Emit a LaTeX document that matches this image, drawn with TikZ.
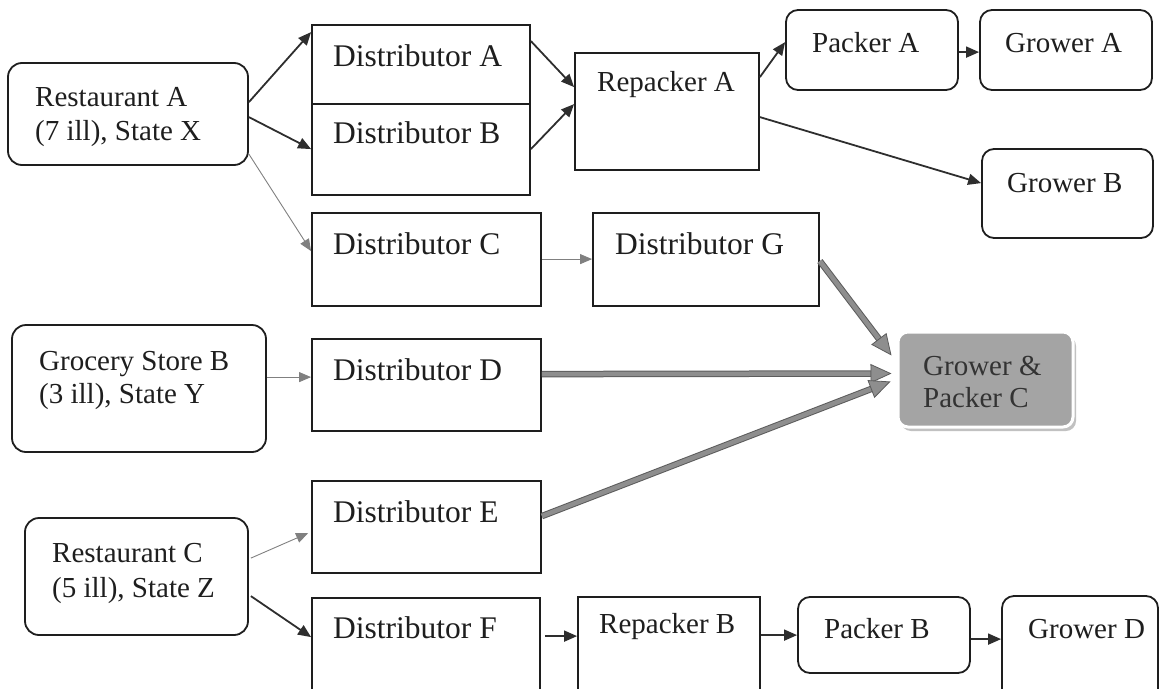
\documentclass[tikz,border=0pt]{standalone}
\usepackage{fontspec}
\setmainfont{Liberation Serif}
\usetikzlibrary{arrows.meta,calc,shadows}
\definecolor{ink}{HTML}{1E1E1E}
\definecolor{arrdark}{HTML}{2E2E2E}
\definecolor{arrthin}{HTML}{808080}
\definecolor{thickfill}{HTML}{8E8E8E}
\definecolor{thickedge}{HTML}{5C5C5C}
\definecolor{gpcfill}{HTML}{A4A4A4}
\begin{document}
\begin{tikzpicture}[x=1pt,y=-1pt,
  box/.style={draw=ink, line width=1.8pt, inner sep=0pt, fill=white},
  rbox/.style={box, rounded corners=14pt},
  lbl/.style={anchor=base west, inner sep=0pt, text=ink, font=\fontsize{29}{34}\selectfont},
  dlbl/.style={lbl, font=\fontsize{31.5}{36}\selectfont},
  darr/.style={draw=arrdark, line width=1.8pt, -{Triangle[length=13pt,width=11pt,fill=arrdark]}},
  tarr/.style={draw=arrthin, line width=0.9pt, -{Triangle[length=12pt,width=10pt,fill=arrthin]}},
  karr/.style={draw=thickfill, line width=4.5pt,
     preaction={draw=thickedge, line width=6.5pt, arrows=-, shorten >=18pt},
     -{Triangle[length=21pt,width=19pt,line width=0.8pt,color=thickedge,fill=thickfill]}}
]
\useasboundingbox (0,0) rectangle (1161,688);
\clip (0,0) rectangle (1161,688);

% boxes
\node[rbox, minimum width=240pt, minimum height=102pt] (ra) at (128,114) {};
\node[box, minimum width=218pt, minimum height=79pt] (da) at (421,64.5) {};
\node[box, minimum width=218pt, minimum height=91pt] (db) at (421,149.5) {};
\node[box, minimum width=184pt, minimum height=117pt] (repa) at (667,111.5) {};
\node[rbox, rounded corners=12pt, minimum width=172pt, minimum height=80pt] (pa) at (872,50) {};
\node[rbox, rounded corners=12pt, minimum width=172pt, minimum height=80pt] (ga) at (1066,50) {};
\node[rbox, rounded corners=12pt, minimum width=171pt, minimum height=89pt] (gb) at (1067.5,193.5) {};
\node[box, minimum width=229pt, minimum height=93pt] (dc) at (426.5,259.5) {};
\node[box, minimum width=226pt, minimum height=93pt] (dg) at (706,259.5) {};
\node[draw=white, line width=3pt, fill=gpcfill, rounded corners=10pt, inner sep=0pt,
      minimum width=175pt, minimum height=95pt,
      drop shadow={shadow xshift=3pt, shadow yshift=-4pt, fill=black!30, opacity=0.8}] (gpc) at (985.5,379.5) {};
\node[rbox, minimum width=254pt, minimum height=127pt] (gsb) at (139,388.5) {};
\node[box, minimum width=229pt, minimum height=92pt] (dd) at (426.5,385) {};
\node[box, minimum width=229pt, minimum height=92pt] (de) at (426.5,527) {};
\node[rbox, minimum width=223pt, minimum height=117pt] (rc) at (136.5,576.5) {};
\node[box, minimum width=228pt, minimum height=122pt] (df) at (426,659) {};
\node[box, minimum width=182pt, minimum height=123pt] (rb) at (669,658.5) {};
\node[rbox, rounded corners=12pt, minimum width=172pt, minimum height=76pt] (pb) at (884,635) {};
\node[rbox, rounded corners=12pt, minimum width=156pt, minimum height=124pt] (gd) at (1080,658) {};

% texts
\node[lbl] (ra1) at (35,106) {Restaurant A};
\node[lbl] (ra2) at (35,140) {(7 ill), State X};
\node[dlbl] (dat) at (333,66) {Distributor A};
\node[dlbl] (dbt) at (333,143) {Distributor B};
\node[lbl] (repat) at (597,91) {Repacker A};
\node[lbl] (pat) at (812,52) {Packer A};
\node[lbl] (gat) at (1005,52) {Grower A};
\node[lbl] (gbt) at (1007,192) {Grower B};
\node[dlbl] (dct) at (333,254) {Distributor C};
\node[dlbl] (dgt) at (615,254) {Distributor G};
\node[lbl, text=black!80] (gpc1) at (923,375) {Grower \&};
\node[lbl, text=black!80] (gpc2) at (923,407) {Packer C};
\node[lbl] (gsb1) at (39,370) {Grocery Store B};
\node[lbl] (gsb2) at (39,403) {(3 ill), State Y};
\node[dlbl] (ddt) at (333,380) {Distributor D};
\node[dlbl] (det) at (333,522) {Distributor E};
\node[lbl] (rc1) at (52,562) {Restaurant C};
\node[lbl] (rc2) at (52,597) {(5 ill), State Z};
\node[dlbl] (dft) at (333,638) {Distributor F};
\node[lbl] (rbt) at (599,633) {Repacker B};
\node[lbl] (pbt) at (824,638) {Packer B};
\node[lbl] (gdt) at (1028,638) {Grower D};

% connectors
\draw[darr] ($(ra.north east)+(0,40)$) -- ($(da.north west)+(0,8)$);
\draw[darr] ($(ra.north east)+(0,55)$) -- ($(db.north west)+(0,46)$);
\draw[tarr] ($(ra.north east)+(0,92)$) -- ($(dc.north west)+(0,39)$);
\draw[darr] ($(da.north east)+(0,17)$) -- ($(repa.north west)+(0,35)$);
\draw[darr] ($(db.north east)+(0,46)$) -- ($(repa.north west)+(0,52)$);
\draw[darr] ($(repa.north east)+(0,25)$) -- ($(pa.north west)+(0,33)$);
\draw[darr] ($(pa.north east)+(0,43)$) -- ($(ga.north west)+(0,43)$);
\draw[darr] ($(repa.north east)+(0,65)$) -- ($(gb.north west)+(0,35)$);
\draw[tarr] ($(dc.north east)+(0,47)$) -- ($(dg.north west)+(0,47)$);
\draw[karr] ($(dg.north east)+(0,49)$) -- ($(gpc.north west)+(-5,25)$);
\draw[karr] ($(dd.north east)+(0,36)$) -- ($(gpc.north west)+(-5,43)$);
\draw[karr] ($(de.north east)+(0,36)$) -- ($(gpc.north west)+(-6,51)$);
\draw[tarr] ($(gsb.north east)+(0,53)$) -- ($(dd.north west)+(0,39)$);
\draw[tarr] ($(rc.north east)+(2,41)$) -- ($(de.north west)+(-3,53)$);
\draw[darr] ($(rc.north east)+(2,79)$) -- ($(df.north west)+(0,40)$);
\draw[darr] ($(df.north east)+(4,39)$) -- ($(rb.north west)+(0,40)$);
\draw[darr] ($(rb.north east)+(0,39)$) -- ($(pb.north west)+(0,39)$);
\draw[darr] ($(pb.north east)+(0,43)$) -- ($(gd.north west)+(0,44)$);
\end{tikzpicture}
\end{document}
